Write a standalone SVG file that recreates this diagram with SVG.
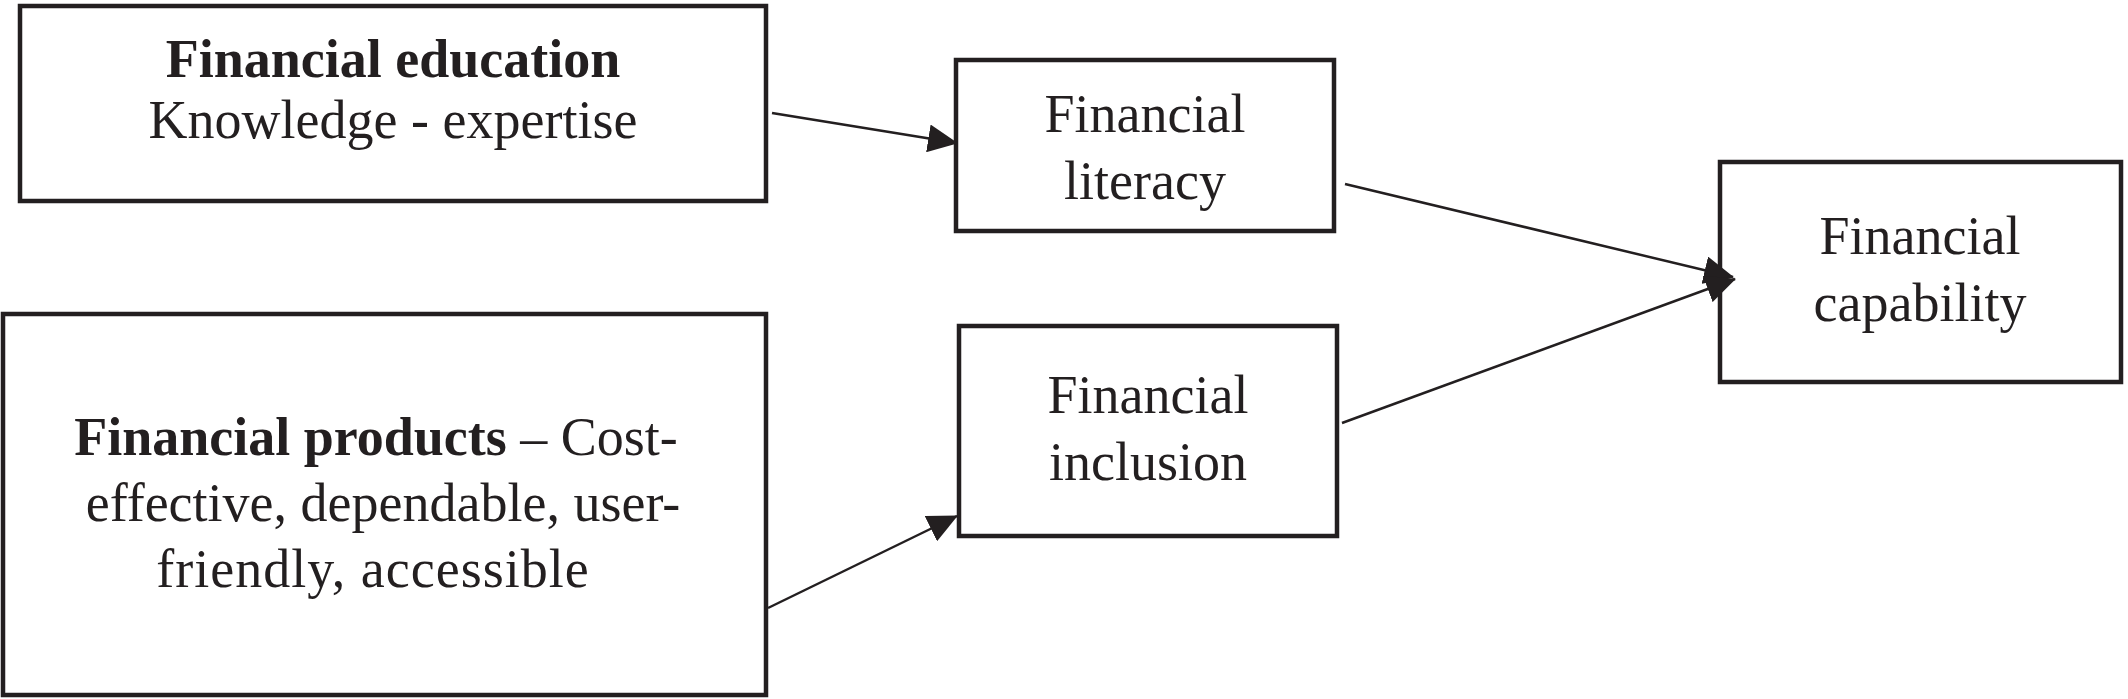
<svg xmlns="http://www.w3.org/2000/svg" width="2128" height="699" viewBox="0 0 2128 699">
<style>
.box{fill:#fff;stroke:#231f20;stroke-width:4.5}
.t{font-family:"Liberation Serif","Times New Roman",serif;font-size:54px;fill:#231f20;text-anchor:middle}
.b{font-weight:bold}
.c{stroke:#231f20;stroke-width:2.5;fill:none;marker-end:url(#ah)}
</style>
<defs>
<marker id="ah" markerUnits="userSpaceOnUse" markerWidth="30" markerHeight="28" refX="29" refY="14" orient="auto" viewBox="0 0 30 28">
<path d="M0,0 L30,14 L0,28 z" fill="#231f20"/>
</marker>
</defs>
<rect width="2128" height="699" fill="#fff"/>
<g id="education">
<rect class="box" x="20" y="6" width="746" height="195"/>
<text class="t b" x="393" y="77">Financial education</text>
<text class="t" x="393" y="138">Knowledge - expertise</text>
</g>
<g id="products">
<rect class="box" x="3" y="314" width="763" height="381"/>
<text class="t" x="376" y="455"><tspan class="b">Financial products</tspan> – Cost-</text>
<text class="t" x="383" y="521">effective, dependable, user-</text>
<text class="t" x="373" y="587" letter-spacing="1">friendly, accessible</text>
</g>
<g id="literacy">
<rect class="box" x="956" y="60" width="378" height="171"/>
<text class="t" x="1145" y="132">Financial</text>
<text class="t" x="1145" y="199">literacy</text>
</g>
<g id="inclusion">
<rect class="box" x="959" y="326" width="378" height="210"/>
<text class="t" x="1148" y="413">Financial</text>
<text class="t" x="1148" y="480">inclusion</text>
</g>
<g id="capability">
<rect class="box" x="1720" y="162" width="401" height="220"/>
<text class="t" x="1920" y="254">Financial</text>
<text class="t" x="1920" y="321">capability</text>
</g>
<g id="connectors">
<line class="c" x1="772" y1="113" x2="957" y2="143"/>
<line class="c" x1="1345" y1="184" x2="1733" y2="277"/>
<line class="c" x1="1342" y1="423" x2="1735" y2="279"/>
<line class="c" x1="768" y1="608" x2="957" y2="516"/>
</g>
</svg>
